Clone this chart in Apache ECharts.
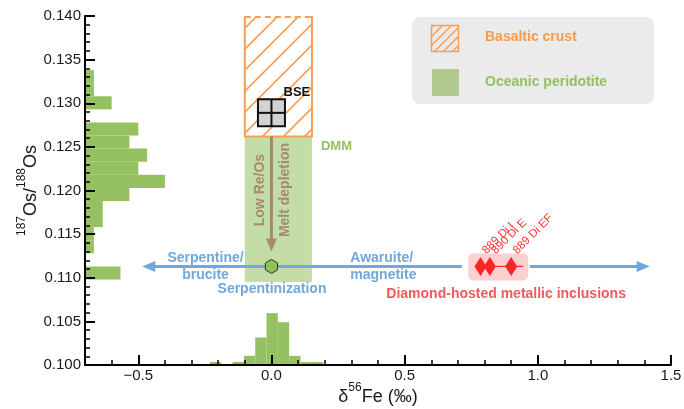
<!DOCTYPE html>
<html><head><meta charset="utf-8">
<script src="https://cdn.jsdelivr.net/npm/echarts@6/dist/echarts.min.js"></script>
<style>html,body{margin:0;padding:0;background:#fff}#c{width:684px;height:409px}</style>
</head><body><div id="c"></div>
<script>
// ---------------- data ----------------
// Left histogram of 187Os/188Os (bins from bottom to top)
const osBinStart = 0.1098;
const osBinWidth = 0.0015;
const osCounts = [4, 0, 1, 1, 2, 2, 5, 9, 6, 7, 5, 6, 0, 3, 1, 1];
// Bottom histogram of d56Fe (bins from left to right)
const feBinStart = -0.231;
const feBinWidth = 0.0425;
const feCounts = [1, 0, 1, 3, 9, 17, 14, 3, 1, 1];
// Diamond-hosted metallic inclusions
const incLabels = ['889 Di I', '890 Di E', '889 Di EF'];
const incFe = [0.785, 0.82, 0.90];
const incFeErr = [0.02, 0.035, 0.045];
const incOs = [0.1113, 0.1113, 0.1113];
// BSE and serpentinized peridotite reference points [Fe, Os]
const bsePoint = [0.0, 0.1289];
const serpPoint = [0.0, 0.1113];
// Fields [feMin, feMax, osMin, osMax]
const crustField = [-0.1, 0.152, 0.1262, 0.140];
const peridotiteField = [-0.1, 0.152, 0.1095, 0.1262];
// Arrows
const meltArrow = [[0.0, 0.1262], [0.0, 0.1130]];
const serpArrowOs = 0.1113;
const serpArrowFe = [-0.485, 0.715, 0.97, 1.42]; // left tip, gap start, gap end, right tip
// Axis ticks
const feMajorTicks = [-0.5, 0.0, 0.5, 1.0, 1.5];
const feMinorTicks = [];
for (let k = -6; k <= 14; k++) { if (k % 5 !== 0) feMinorTicks.push(k / 10); }
// Annotations
const noteText = ['BSE', 'DMM', 'Low Re/Os', 'Melt depletion', 'Serpentine/\nbrucite', 'Awaruite/\nmagnetite', 'Serpentinization', 'Diamond-hosted metallic inclusions'];
const noteFe = [0.0956, 0.244, -0.041, 0.0506, -0.2475, 0.296, 0.002, 0.881];
const noteOs = [0.1312, 0.1251, 0.12005, 0.12005, 0.11129, 0.1113, 0.1087, 0.10814];

// ---------------- style ----------------
const FONT = '"Liberation Sans", Arial, Helvetica, sans-serif';
const BAR_GREEN = '#95c163';
const FIELD_GREEN = '#c4dca6';
const ORANGE = '#f7a055';
const BLUE = '#6fa8dc';
const BROWN = '#a58a72';
const RED = '#ff2424';
const osUnit = 1 / 30;      // x-units per count
const feUnit = 0.00035;     // y-units per count
const X_MIN = -0.7, X_MAX = 1.5, Y_MIN = 0.100, Y_MAX = 0.140;

function hatch(size, lw, color) {
  const c = document.createElement('canvas');
  c.width = c.height = size;
  const g = c.getContext('2d');
  g.strokeStyle = color; g.lineWidth = lw;
  g.beginPath();
  g.moveTo(-1, size + 1); g.lineTo(size + 1, -1);
  g.moveTo(-2, 2); g.lineTo(2, -2);
  g.moveTo(size - 2, size + 2); g.lineTo(size + 2, size - 2);
  g.stroke();
  return c;
}
const crustPattern = { image: hatch(21, 1.6, ORANGE), repeat: 'repeat' };
const legendPattern = { image: hatch(9, 1.5, ORANGE), repeat: 'repeat' };

const noteStyles = [
  { color: '#111', rot: 0, align: 'center', size: 13 },
  { color: '#92c15f', rot: 0, align: 'center', size: 13 },
  { color: BROWN, rot: Math.PI / 2, align: 'center', size: 14 },
  { color: BROWN, rot: Math.PI / 2, align: 'center', size: 14 },
  { color: BLUE, rot: 0, align: 'center', size: 14 },
  { color: BLUE, rot: 0, align: 'left', size: 14 },
  { color: BLUE, rot: 0, align: 'center', size: 14 },
  { color: '#f25a5a', rot: 0, align: 'center', size: 14 }
];

const titleRich = {
  m: { fontSize: 18, fontFamily: FONT, color: '#1a1a1a', lineHeight: 24, verticalAlign: 'bottom' },
  sup: { fontSize: 12, fontFamily: FONT, color: '#1a1a1a', lineHeight: 12, verticalAlign: 'top' }
};

function rectFrom(p0, p1) {
  return { x: Math.min(p0[0], p1[0]), y: Math.min(p0[1], p1[1]), width: Math.abs(p1[0] - p0[0]), height: Math.abs(p1[1] - p0[1]) };
}
function txt(x, y, text, fill, font, align, valign, rot, lh) {
  return { type: 'text', x: x, y: y, rotation: rot || 0,
    style: { text: text, fill: fill, font: font, align: align, verticalAlign: valign,
      textAlign: align, textVerticalAlign: valign, lineHeight: lh || undefined } };
}

const chart = echarts.init(document.getElementById('c'));
const option = {
  animation: false,
  grid: { left: 85, right: 13, top: 16, bottom: 44, containLabel: false, outerBoundsMode: 'none' },
  xAxis: [{
    type: 'value', min: X_MIN, max: X_MAX, z: 10,
    name: '{m|δ}{sup|56}{m|Fe (‰)}', nameLocation: 'middle', nameGap: 17, nameMoveOverlap: false,
    nameTextStyle: { rich: titleRich },
    axisLine: { show: true, onZero: false, lineStyle: { color: '#000', width: 2 } },
    axisTick: { show: true, inside: true, length: 10, customValues: feMajorTicks, lineStyle: { color: '#000', width: 2 } },
    axisLabel: { customValues: feMajorTicks, fontSize: 15, fontFamily: FONT, color: '#1a1a1a', margin: 3,
      formatter: v => (v < 0 ? '\u2212' : '') + Math.abs(v).toFixed(1) },
    splitLine: { show: false }
  }, {
    type: 'value', min: X_MIN, max: X_MAX, z: 10, position: 'bottom',
    axisLine: { show: false, onZero: false },
    axisTick: { show: true, inside: true, length: 5, customValues: feMinorTicks, lineStyle: { color: '#000', width: 1.5 } },
    axisLabel: { show: false },
    splitLine: { show: false }
  }],
  yAxis: {
    type: 'value', min: Y_MIN, max: Y_MAX, interval: 0.005, z: 10,
    name: '{sup|187}{m|Os/}{sup|188}{m|Os}', nameLocation: 'middle', nameRotate: 90, nameGap: 45, nameMoveOverlap: false,
    nameTextStyle: { rich: titleRich },
    axisLine: { show: true, onZero: false, lineStyle: { color: '#000', width: 2 } },
    axisTick: { show: true, inside: true, length: 10, lineStyle: { color: '#000', width: 2 } },
    minorTick: { show: true, splitNumber: 5, length: 5, lineStyle: { color: '#000', width: 1.5 } },
    axisLabel: { fontSize: 15, fontFamily: FONT, color: '#1a1a1a', margin: 4, formatter: v => v.toFixed(3) },
    splitLine: { show: false }
  },
  graphic: [
    { type: 'rect', shape: { x: 412, y: 17, width: 242, height: 87, r: 8 }, style: { fill: '#ebebeb' }, z: 1 },
    { type: 'rect', shape: { x: 431.5, y: 25.5, width: 27, height: 26 }, style: { fill: legendPattern, stroke: ORANGE, lineWidth: 1.5 }, z: 2 },
    { type: 'rect', shape: { x: 432, y: 69, width: 27, height: 27 }, style: { fill: '#b0c98f' }, z: 2 },
    { type: 'text', x: 485, y: 37.5, style: { text: 'Basaltic crust', fill: '#f59d4d', font: 'bold 14px ' + FONT, verticalAlign: 'middle', textVerticalAlign: 'middle' }, z: 2 },
    { type: 'text', x: 485, y: 82, style: { text: 'Oceanic peridotite', fill: '#92c15f', font: 'bold 14px ' + FONT, verticalAlign: 'middle', textVerticalAlign: 'middle' }, z: 2 }
  ],
  series: [
    { // oceanic peridotite field
      type: 'custom', z: 1, data: [[peridotiteField[0], peridotiteField[2]]],
      renderItem: (p, api) => ({ type: 'rect',
        shape: rectFrom(api.coord([peridotiteField[0], peridotiteField[3]]), api.coord([peridotiteField[1], peridotiteField[2]])),
        style: { fill: FIELD_GREEN } })
    },
    { // basaltic crust field
      type: 'custom', z: 2, data: [[crustField[0], crustField[2]]],
      renderItem: (p, api) => {
        const tl = api.coord([crustField[0], crustField[3]]), br = api.coord([crustField[1], crustField[2]]);
        return { type: 'group', children: [
          { type: 'rect', shape: rectFrom(tl, br), style: { fill: crustPattern } },
          { type: 'polyline', shape: { points: [[tl[0], tl[1]], [tl[0], br[1]], [br[0], br[1]], [br[0], tl[1]]] }, style: { stroke: ORANGE, lineWidth: 2, fill: null } },
          { type: 'line', shape: { x1: tl[0], y1: tl[1] + 1, x2: br[0], y2: tl[1] + 1 }, style: { stroke: ORANGE, lineWidth: 2, lineDash: [6, 4] } }
        ] };
      }
    },
    { // Os histogram
      type: 'custom', z: 3,
      data: osCounts.map((c, i) => [X_MIN + c * osUnit, osBinStart + (i + 0.5) * osBinWidth]),
      renderItem: (p, api) => {
        const i = p.dataIndex, lo = osBinStart + i * osBinWidth, hi = lo + osBinWidth;
        return { type: 'rect', shape: rectFrom(api.coord([X_MIN, hi]), api.coord([X_MIN + osCounts[i] * osUnit, lo])), style: { fill: BAR_GREEN } };
      }
    },
    { // Fe histogram
      type: 'custom', z: 3,
      data: feCounts.map((c, i) => [feBinStart + (i + 0.5) * feBinWidth, Y_MIN + c * feUnit]),
      renderItem: (p, api) => {
        const i = p.dataIndex, lo = feBinStart + i * feBinWidth, hi = lo + feBinWidth;
        return { type: 'rect', shape: rectFrom(api.coord([lo, Y_MIN + feCounts[i] * feUnit]), api.coord([hi, Y_MIN])), style: { fill: BAR_GREEN } };
      }
    },
    { // serpentinization arrow (blue)
      type: 'custom', z: 4, data: [[serpArrowFe[0], serpArrowOs]],
      renderItem: (p, api) => {
        const a = api.coord([serpArrowFe[0], serpArrowOs]), b = api.coord([serpArrowFe[1], serpArrowOs]);
        const c = api.coord([serpArrowFe[2], serpArrowOs]), d = api.coord([serpArrowFe[3], serpArrowOs]);
        const y = a[1];
        return { type: 'group', children: [
          { type: 'line', shape: { x1: a[0] + 10, y1: y, x2: b[0], y2: y }, style: { stroke: BLUE, lineWidth: 3 } },
          { type: 'line', shape: { x1: c[0], y1: y, x2: d[0] - 10, y2: y }, style: { stroke: BLUE, lineWidth: 3 } },
          { type: 'polygon', shape: { points: [[a[0], y], [a[0] + 13, y - 5.5], [a[0] + 13, y + 5.5]] }, style: { fill: BLUE } },
          { type: 'polygon', shape: { points: [[d[0], y], [d[0] - 13, y - 5.5], [d[0] - 13, y + 5.5]] }, style: { fill: BLUE } }
        ] };
      }
    },
    { // melt depletion arrow (brown)
      type: 'custom', z: 4, data: [meltArrow[0]],
      renderItem: (p, api) => {
        const a = api.coord(meltArrow[0]), b = api.coord(meltArrow[1]);
        return { type: 'group', children: [
          { type: 'line', shape: { x1: a[0], y1: a[1], x2: b[0], y2: b[1] - 10 }, style: { stroke: BROWN, lineWidth: 3 } },
          { type: 'polygon', shape: { points: [[b[0], b[1]], [b[0] - 5.5, b[1] - 13], [b[0] + 5.5, b[1] - 13]] }, style: { fill: BROWN } }
        ] };
      }
    },
    { // inclusion box + error line
      type: 'custom', z: 5, data: [[incFe[0], incOs[0]]],
      renderItem: (p, api) => {
        const lo = Math.min(...incFe.map((v, i) => v - incFeErr[i]));
        const hi = Math.max(...incFe.map((v, i) => v + incFeErr[i]));
        const a = api.coord([lo, incOs[0]]), b = api.coord([hi, incOs[0]]);
        const children = [{ type: 'rect', shape: { x: a[0] - 7, y: a[1] - 13, width: b[0] - a[0] + 12, height: 27, r: 5 }, style: { fill: '#fcd0d0' } }];
        incFe.forEach((v, i) => {
          const l = api.coord([v - incFeErr[i], incOs[i]]), r = api.coord([v + incFeErr[i], incOs[i]]);
          children.push({ type: 'line', shape: { x1: l[0], y1: l[1], x2: r[0], y2: r[1] }, style: { stroke: RED, lineWidth: 1.2 } });
        });
        return { type: 'group', children: children };
      }
    },
    { // inclusions
      type: 'scatter', z: 6, symbol: 'diamond', symbolSize: [12, 19],
      itemStyle: { color: RED, opacity: 1 },
      data: incFe.map((v, i) => [v, incOs[i]])
    },
    { // inclusion labels
      type: 'custom', z: 7, data: incFe.map((v, i) => [v, incOs[i]]),
      renderItem: (p, api) => {
        const i = p.dataIndex, c = api.coord([incFe[i], incOs[i]]);
        return txt(c[0] + 8, c[1] - 10, incLabels[i], '#ff3030', '11.5px ' + FONT, 'left', 'bottom', Math.PI / 4);
      }
    },
    { // serpentinized point (hexagon)
      type: 'custom', z: 7, data: [serpPoint],
      renderItem: (p, api) => {
        const c = api.coord(serpPoint), r = 7, pts = [];
        for (let k = 0; k < 6; k++) { const t = -Math.PI / 2 + k * Math.PI / 3; pts.push([c[0] + r * Math.cos(t), c[1] + r * Math.sin(t)]); }
        return { type: 'polygon', shape: { points: pts }, style: { fill: '#8fc05a', stroke: '#2f3b22', lineWidth: 1 } };
      }
    },
    { // BSE
      type: 'custom', z: 7, data: [bsePoint],
      renderItem: (p, api) => {
        const c = api.coord(bsePoint), h = 13.5;
        return { type: 'group', children: [
          { type: 'rect', shape: { x: c[0] - h, y: c[1] - h, width: 2 * h, height: 2 * h }, style: { fill: '#d2d2d2', stroke: '#111', lineWidth: 2 } },
          { type: 'line', shape: { x1: c[0], y1: c[1] - h, x2: c[0], y2: c[1] + h }, style: { stroke: '#111', lineWidth: 2 } },
          { type: 'line', shape: { x1: c[0] - h, y1: c[1], x2: c[0] + h, y2: c[1] }, style: { stroke: '#111', lineWidth: 2 } }
        ] };
      }
    },
    { // annotations
      type: 'custom', z: 8, data: noteFe.map((v, i) => [v, noteOs[i]]),
      renderItem: (p, api) => {
        const i = p.dataIndex, s = noteStyles[i], c = api.coord([noteFe[i], noteOs[i]]);
        return txt(c[0], c[1], noteText[i], s.color, 'bold ' + s.size + 'px ' + FONT, s.align, 'middle', s.rot, 17);
      }
    }
  ]
};
chart.setOption(option);
</script>
</body></html>
